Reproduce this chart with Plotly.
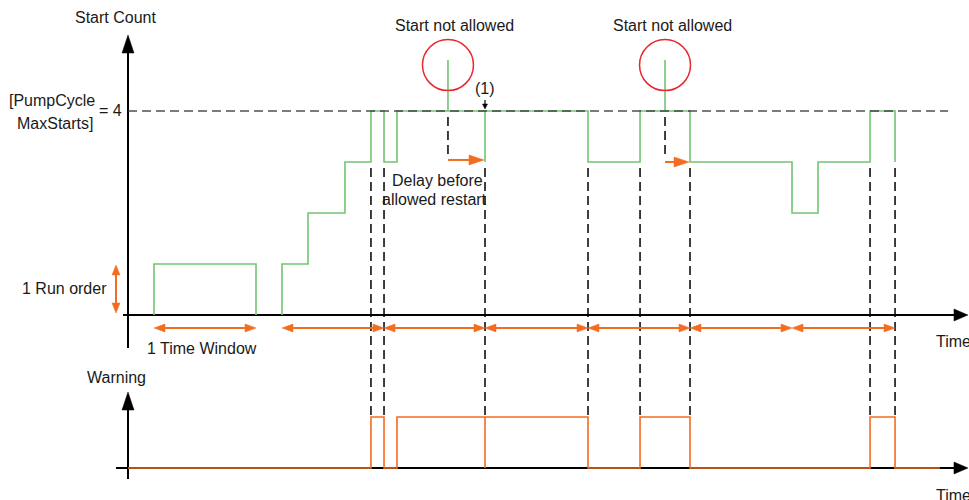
import plotly.graph_objects as go

# ---------------- data ----------------
# time in arbitrary units (one time window = 10 units)
count_t = [2.55, 2.55, 12.55, 12.55, None,
           15.1, 15.1, 17.65, 17.65, 21.27, 21.27, 23.82, 23.82, 25.1, 25.1,
           26.37, 26.37, 31.37, 31.37, 31.37, 35.0, 35.0, 35.0, 45.1, 45.1,
           50.2, 50.2, 52.65, 52.65, 52.65, 55.1, 55.1, 65.1, 65.1, 67.65, 67.65,
           72.75, 72.75, 75.2, 75.2]
count_v = [0, 1, 1, 0, None,
           0, 1, 1, 2, 2, 3, 3, 4, 4, 3,
           3, 4, 4, 5, 4, 4, 3, 4, 4, 3,
           3, 4, 4, 5, 4, 4, 3, 3, 2, 2, 3,
           3, 4, 4, 3]

warn_t = [0, 23.82, 23.82, 25.1, 25.1, 26.37, 26.37, 35.0, 35.0, 35.0, 45.1,
          45.1, 50.2, 50.2, 55.1, 55.1, 72.75, 72.75, 75.2, 75.2, 79.6]
warn_v = [0, 0, 1, 1, 0, 0, 1, 1, 0, 1, 1,
          0, 0, 1, 1, 0, 0, 1, 1, 0, 0]

MAX_STARTS = 4
limit_t = [0, 80.4]

blocked_t = [31.37, 52.65]          # start not allowed
blocked_v = [4.9, 4.9]
release_t = [35.0, 55.1]            # allowed restart
delay_v = [3.04, 3.0]

window_start = [2.55, 15.1, 25.1, 35.0, 45.1, 55.1, 65.1]
window_end = [12.55, 25.1, 35.0, 45.1, 55.1, 65.1, 75.2]

event_t = [23.82, 25.1, 35.0, 45.1, 50.2, 55.1, 72.75, 75.2]

# ---------------- styling / scale ----------------
W, H = 969, 500
PXT = 10.2      # px per time unit
PXV = 51.0      # px per count unit
X0_PX = 128     # time origin
Y0_PX = 315     # top baseline
Y2_PX = 468     # bottom baseline
GAP = (Y2_PX - Y0_PX) / PXV   # count units between baselines

GREEN = "#74c474"
ORANGE = "#f36c21"
RED = "#e8262b"
DASH = "#333333"
FONT = "Liberation Sans, Arial, sans-serif"

x_range = [-X0_PX / PXT, (W - X0_PX) / PXT]
y_range = [(Y0_PX - H) / PXV, Y0_PX / PXV]
y2_range = [(Y2_PX - H) / PXV, Y2_PX / PXV]


def head(tt, vv, dx, dy, L, Wd):
    """triangle arrowhead, tip at (tt, vv), direction (dx, dy) in px (dy up)."""
    bx, by = -dx * L, -dy * L
    px, py = -dy * Wd / 2, dx * Wd / 2
    pts = [(0, 0), (bx + px, by + py), (bx - px, by - py), (0, 0)]
    xs = [tt + a / PXT for a, b in pts] + [None]
    ys = [vv + b / PXV for a, b in pts] + [None]
    return xs, ys


fig = go.Figure()


def line(xs, ys, color, width, dash=None, yaxis="y", opacity=1.0):
    fig.add_trace(go.Scatter(x=xs, y=ys, mode="lines", yaxis=yaxis,
                             line=dict(color=color, width=width, dash=dash),
                             opacity=opacity, hoverinfo="skip", showlegend=False))


def fillpoly(xs, ys, color, yaxis="y"):
    fig.add_trace(go.Scatter(x=xs, y=ys, mode="lines", yaxis=yaxis, fill="toself",
                             fillcolor=color, line=dict(color=color, width=0.5),
                             hoverinfo="skip", showlegend=False))


# ---- axes (top) ----
top_tip_v = (Y0_PX - 35) / PXV
line([0, 0], [(Y0_PX - 348) / PXV, top_tip_v - 10 / PXV], "black", 2)
line([-5 / PXT, 82.35 - 8 / PXT], [0, 0], "black", 2)
# ---- axes (bottom) ----
bot_tip_w = (Y2_PX - 392) / PXV
line([0, 0], [(Y2_PX - 479) / PXV, bot_tip_w - 10 / PXV], "black", 2, yaxis="y2")
line([-12 / PXT, 82.35 - 8 / PXT], [0, 0], "black", 2, yaxis="y2")

# black arrowheads
bx, by = [], []
for h in [head(0, top_tip_v, 0, 1, 18, 12), head(82.35, 0, 1, 0, 14, 12)]:
    bx += h[0]; by += h[1]
fillpoly(bx, by, "black")
bx, by = [], []
for h in [head(0, bot_tip_w, 0, 1, 18, 12), head(82.35, 0, 1, 0, 14, 12)]:
    bx += h[0]; by += h[1]
fillpoly(bx, by, "black", yaxis="y2")

# ---- green start count trace ----
line(count_t, count_v, GREEN, 1.6)

# max starts dashed level
line(limit_t, [MAX_STARTS, MAX_STARTS], DASH, 1.5, dash="9px,5px", opacity=0.85)

# event dashed verticals (top count 3 region -> bottom warning high)
ex, ey = [], []
for t in event_t:
    ex += [t, t, None]
    ey += [(Y0_PX - 168) / PXV, 1 - GAP, None]
line(ex, ey, "black", 1.5, dash="9px,5px")

# dashed drop from blocked spikes
sx, sy = [], []
for t in blocked_t:
    sx += [t, t, None]
    sy += [(Y0_PX - 117) / PXV, (Y0_PX - 157) / PXV, None]
line(sx, sy, "black", 1.5, dash="9px,5px")

# ---- warning trace ----
line(warn_t, warn_v, ORANGE, 1.6, yaxis="y2")

# ---- orange arrows ----
win_v = (Y0_PX - 328) / PXV
ox, oy = [], []
hx, hy = [], []
for a, b in zip(window_start, window_end):
    ox += [a + 6 / PXT, b - 6 / PXT, None]
    oy += [win_v, win_v, None]
    for h in [head(a, win_v, -1, 0, 11, 8), head(b, win_v, 1, 0, 11, 8)]:
        hx += h[0]; hy += h[1]
# run order arrow
ro_t = (116 - X0_PX) / PXT
ro_top, ro_bot = (Y0_PX - 265) / PXV, (Y0_PX - 313) / PXV
ox += [ro_t, ro_t, None]
oy += [ro_top - 6 / PXV, ro_bot + 6 / PXV, None]
for h in [head(ro_t, ro_top, 0, 1, 10, 8), head(ro_t, ro_bot, 0, -1, 10, 8)]:
    hx += h[0]; hy += h[1]
# delay arrows
for a, b, v in zip(blocked_t, release_t, delay_v):
    ox += [a, b - 8 / PXT, None]
    oy += [v, v, None]
    h = head(b - 1 / PXT, v, 1, 0, 15, 10)
    hx += h[0]; hy += h[1]
line(ox, oy, ORANGE, 2)
fillpoly(hx, hy, ORANGE)

# small "(1)" pointer
p_t = release_t[0]
line([p_t, p_t], [(Y0_PX - 100) / PXV, (Y0_PX - 105) / PXV], "black", 1.2)
h = head(p_t, (Y0_PX - 109) / PXV, 0, -1, 5, 5)
fillpoly(h[0], h[1], "black")

# red circles
fig.add_trace(go.Scatter(x=blocked_t, y=blocked_v, mode="markers",
                         marker=dict(symbol="circle", size=51, color="rgba(0,0,0,0)",
                                     line=dict(color=RED, width=1.5)),
                         hoverinfo="skip", showlegend=False))

# ---- text ----
def txt(t, v, s, xanchor="center", yref="y"):
    fig.add_annotation(x=t, y=v, xref="x", yref=yref, text=s, showarrow=False,
                       xanchor=xanchor, yanchor="middle",
                       font=dict(family=FONT, size=16, color="#1a1a1a"))


def tx(px):
    return (px - X0_PX) / PXT


def ty(py):
    return (Y0_PX - py) / PXV


def ty2(py):
    return (Y2_PX - py) / PXV


txt(tx(115), ty(17), "Start Count")
txt(tx(52), ty(100), "[PumpCycle")
txt(tx(54.5), ty(123), "MaxStarts]")
txt(tx(110), ty(110), "= 4")
txt(tx(109), ty(288), "1 Run order", xanchor="right")
txt(tx(202), ty(348), "1 Time Window")
txt(tx(454.5), ty(25), "Start not allowed")
txt(tx(672), ty(25), "Start not allowed")
txt(tx(485), ty(88), "(1)")
txt(tx(437), ty(180), "Delay before")
txt(tx(434), ty(199), "allowed restart")
txt(tx(934), ty(341), "Time", xanchor="left")
txt(tx(116.5), ty2(377), "Warning", yref="y2")
txt(tx(934), ty2(495), "Time", xanchor="left", yref="y2")

fig.update_layout(
    width=W, height=H,
    margin=dict(l=0, r=0, t=0, b=0),
    paper_bgcolor="white", plot_bgcolor="white",
    xaxis=dict(range=x_range, visible=False, fixedrange=True),
    yaxis=dict(range=y_range, visible=False, domain=[0, 1]),
    yaxis2=dict(range=y2_range, visible=False, overlaying="y", domain=[0, 1]),
    showlegend=False,
)

fig.write_html("out.html", config={"displayModeBar": False},
               post_script="document.body.style.margin='0';document.body.style.overflow='hidden';")
